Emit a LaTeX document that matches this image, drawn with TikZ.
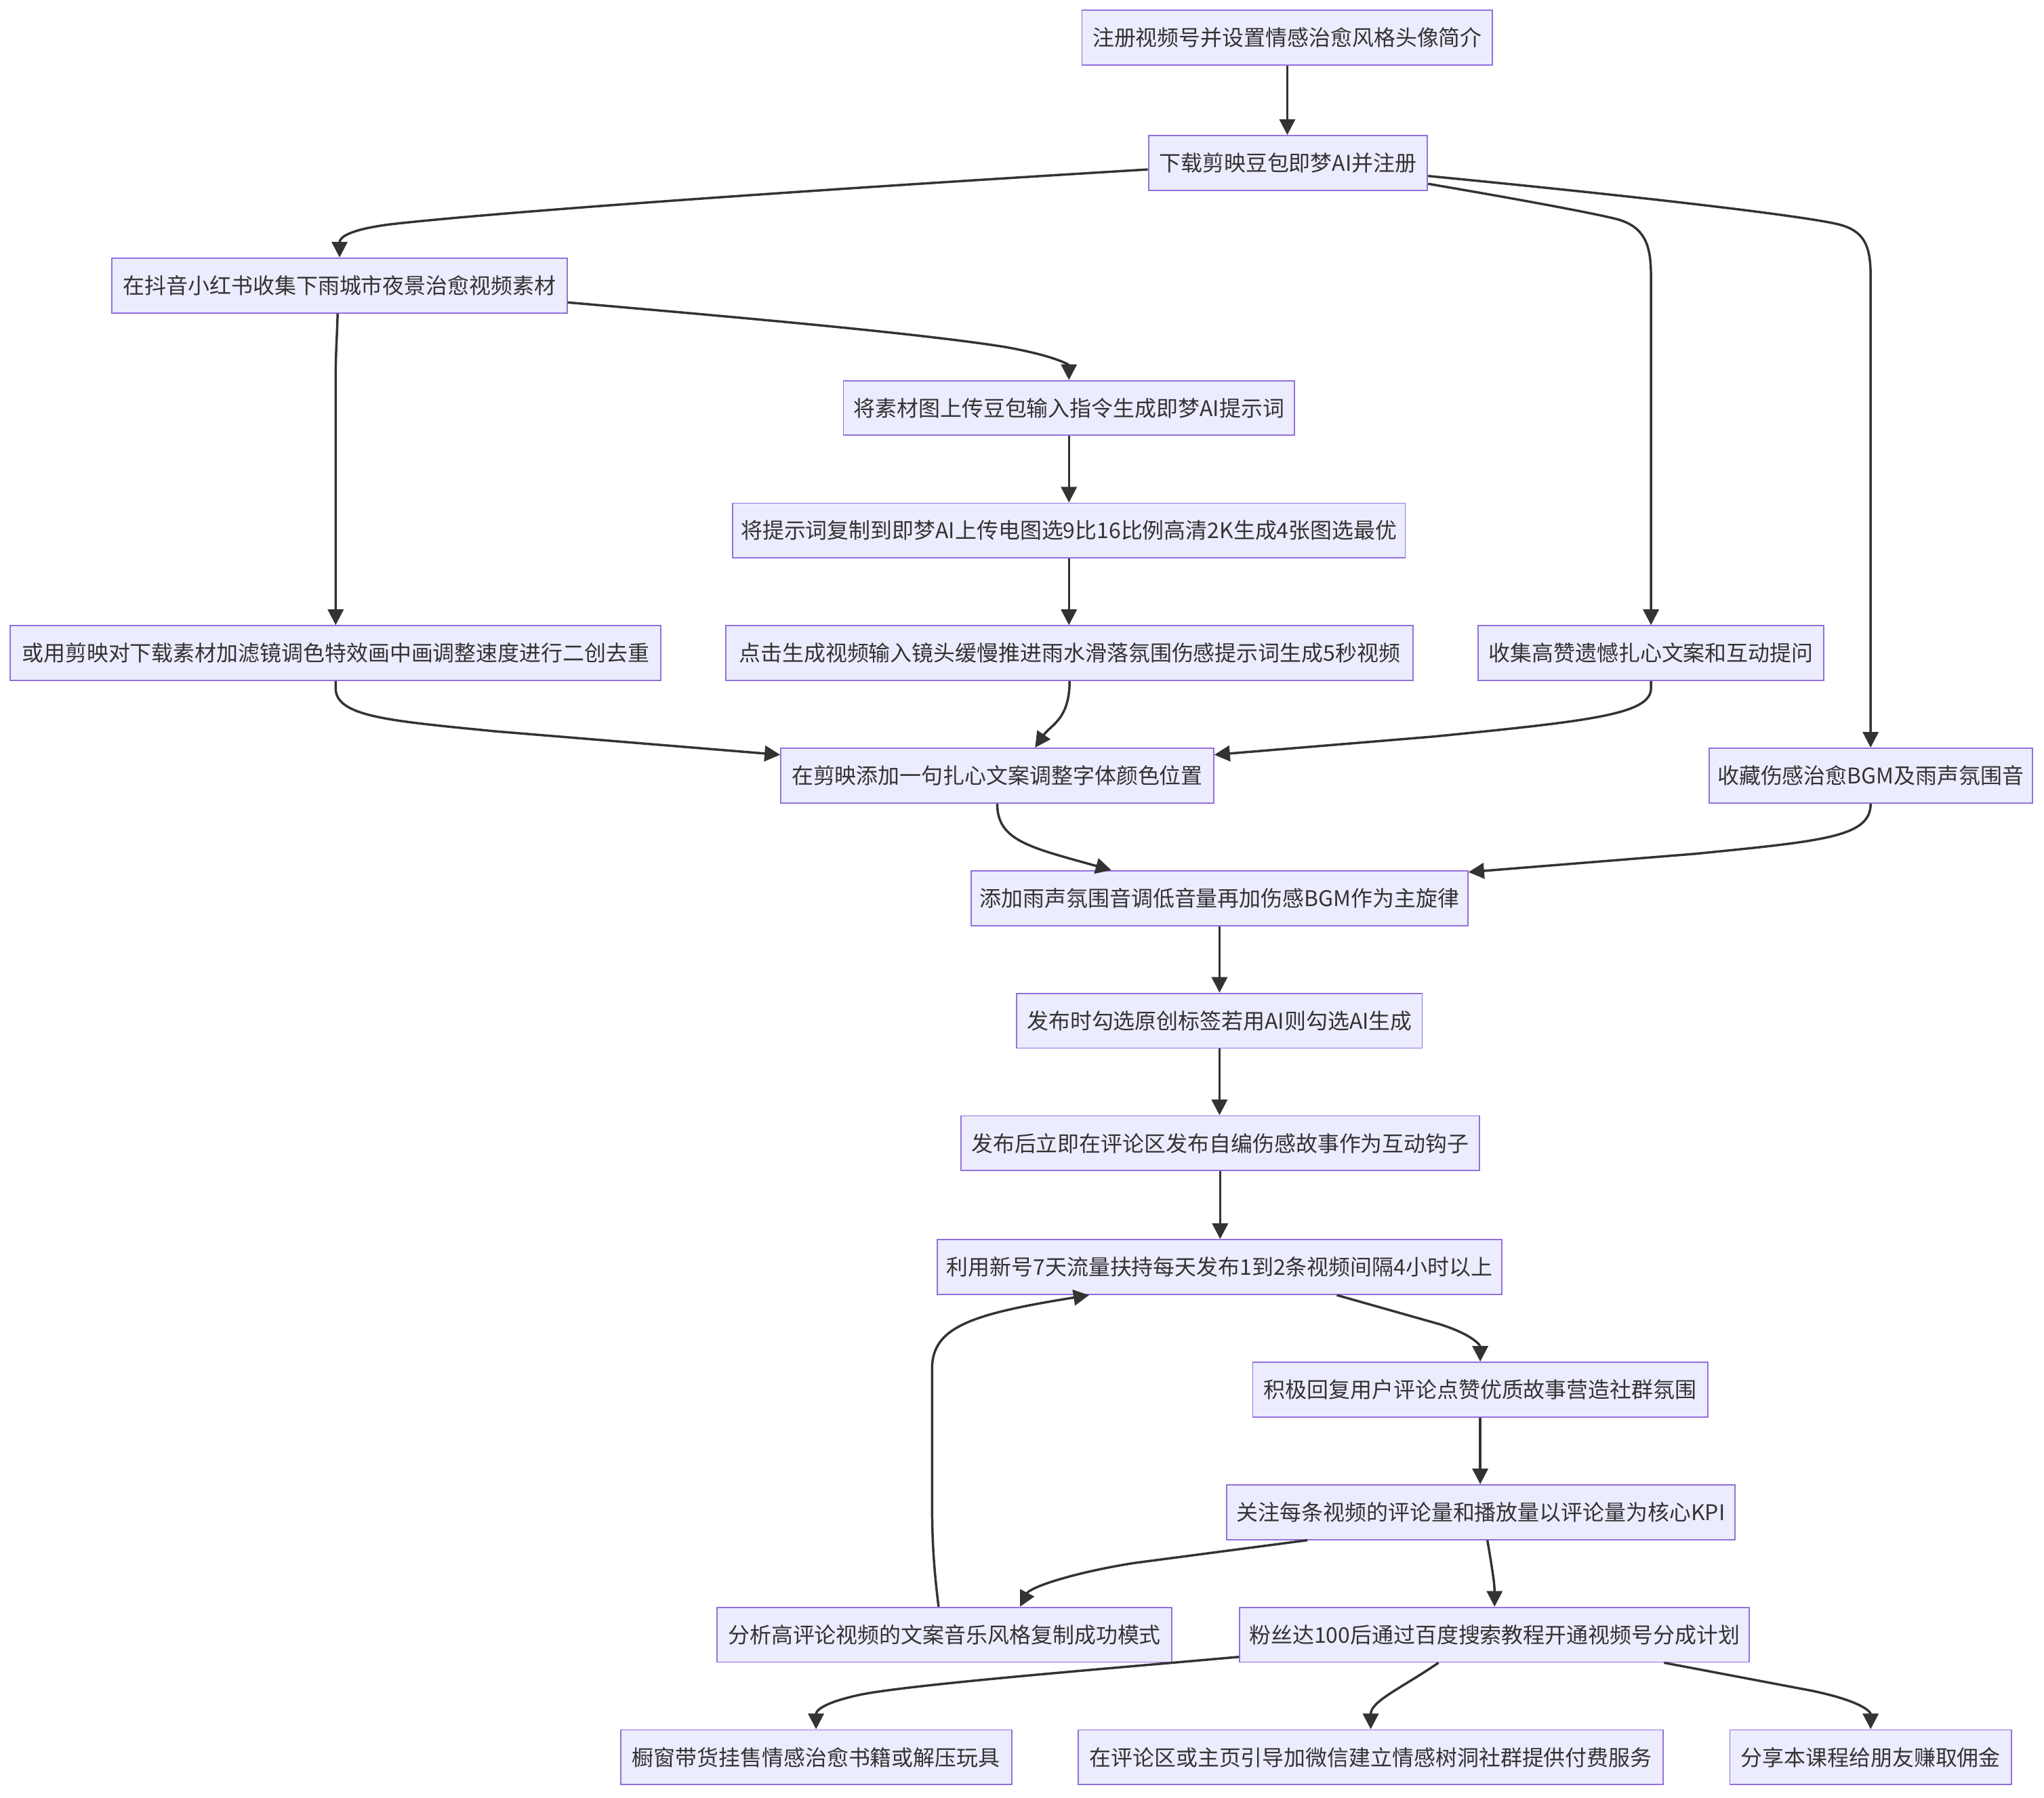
\documentclass[tikz,border=0pt]{standalone}
\usepackage{fontspec}
\setmainfont{Noto Sans CJK SC}
\usetikzlibrary{arrows.meta,calc}
\definecolor{boxfill}{HTML}{ECECFF}
\definecolor{boxline}{HTML}{9370DB}
\definecolor{ink}{HTML}{333333}
\tikzset{
  stepbox/.style={draw=boxline, fill=boxfill, line width=1pt, text=ink,
    minimum height=42pt, inner xsep=3pt, inner ysep=0pt,
    font=\fontsize{16.6pt}{19pt}\selectfont},
  link/.style={draw=ink, line width=1.8pt,
    -{Triangle[length=12pt,width=12pt]}}
}
\begin{document}
\begin{tikzpicture}[x=1pt,y=-1pt]
\useasboundingbox (0,0) rectangle (1568,1379);
\fill[white] (0,0) rectangle (1568,1379);

\node[stepbox, minimum width=315pt] (A) at (987.5,29) {注册视频号并设置情感治愈风格头像简介};
\node[stepbox, minimum width=214pt] (B) at (988,125) {下载剪映豆包即梦AI并注册};
\node[stepbox, minimum width=349pt] (C) at (260.5,219) {在抖音小红书收集下雨城市夜景治愈视频素材};
\node[stepbox, minimum width=346pt] (D) at (820,313) {将素材图上传豆包输入指令生成即梦AI提示词};
\node[stepbox, minimum width=516pt] (E) at (820,407) {将提示词复制到即梦AI上传电图选9比16比例高清2K生成4张图选最优};
\node[stepbox, minimum width=499pt] (F) at (257.5,501) {或用剪映对下载素材加滤镜调色特效画中画调整速度进行二创去重};
\node[stepbox, minimum width=527pt] (G) at (820.5,501) {点击生成视频输入镜头缓慢推进雨水滑落氛围伤感提示词生成5秒视频};
\node[stepbox, minimum width=265pt] (H) at (1266.5,501) {收集高赞遗憾扎心文案和互动提问};
\node[stepbox, minimum width=332pt] (I) at (765,595) {在剪映添加一句扎心文案调整字体颜色位置};
\node[stepbox, minimum width=248pt] (J) at (1435,595) {收藏伤感治愈BGM及雨声氛围音};
\node[stepbox, minimum width=381pt] (K) at (935.5,689) {添加雨声氛围音调低音量再加伤感BGM作为主旋律};
\node[stepbox, minimum width=311pt] (L) at (935.5,783) {发布时勾选原创标签若用AI则勾选AI生成};
\node[stepbox, minimum width=398pt] (M) at (936,877) {发布后立即在评论区发布自编伤感故事作为互动钩子};
\node[stepbox, minimum width=433pt] (N) at (935.5,972) {利用新号7天流量扶持每天发布1到2条视频间隔4小时以上};
\node[stepbox, minimum width=349pt] (O) at (1135.5,1066) {积极回复用户评论点赞优质故事营造社群氛围};
\node[stepbox, minimum width=390pt] (P) at (1136,1160) {关注每条视频的评论量和播放量以评论量为核心KPI};
\node[stepbox, minimum width=349pt] (Q) at (724.5,1254) {分析高评论视频的文案音乐风格复制成功模式};
\node[stepbox, minimum width=391pt] (R) at (1146.5,1254) {粉丝达100后通过百度搜索教程开通视频号分成计划};
\node[stepbox, minimum width=300pt] (S) at (626,1348) {橱窗带货挂售情感治愈书籍或解压玩具};
\node[stepbox, minimum width=449pt] (T) at (1051.5,1348) {在评论区或主页引导加微信建立情感树洞社群提供付费服务};
\node[stepbox, minimum width=216pt] (U) at (1435,1348) {分享本课程给朋友赚取佣金};

% straight links
\draw[link] (A.south) -- (A.south |- B.north);
\draw[link] (D.south) -- (E.north);
\draw[link] (E.south) -- (E.south |- G.north);
\draw[link] (K.south) -- (L.north);
\draw[link] (L.south) -- (L.south |- M.north);
\draw[link] (M.south) -- (M.south |- N.north);
\draw[link] (O.south) -- (O.south |- P.north);

% B fan-out
\draw[link] ($(B.west)+(0,5)$) .. controls (600,147) and (380,163) .. (300,172)
  .. controls (268,176) and (260.5,182) .. (C.north);
\draw[link] ($(B.east)+(0,16)$) .. controls (1160,152) and (1220,163) .. (1240,168)
  .. controls (1262,174) and (1266.5,188) .. (1266.5,212) -- (H.north);
\draw[link] ($(B.east)+(0,10)$) .. controls (1250,150) and (1380,165) .. (1410,172)
  .. controls (1430,177) and (1435,188) .. (1435,212) -- (J.north);

% C fan-out
\draw[link] ($(C.east)+(0,13)$) .. controls (550,242) and (700,255) .. (770,266)
  .. controls (810,273) and (820,280) .. (D.north);
\draw[link] ($(C.south)+(-1.5,0)$) .. controls (258.5,260) and (257.5,270) .. (257.5,290) -- (F.north);

% into I
\draw[link] (F.south) -- (257.5,528) .. controls (257.5,550) and (300,553) .. (380,561)
  -- ($(I.west)+(0,-16)$);
\draw[link] (G.south) .. controls (820.5,552) and (806,556) .. ($(I.north)+(29,0)$);
\draw[link] (H.south) -- (1266.5,528) .. controls (1266.5,548) and (1220,553) .. (1100,565)
  -- ($(I.east)+(0,-16)$);

% into K
\draw[link] (I.south) .. controls (765,645) and (790,650) .. ($(K.north)+(-83,0)$);
\draw[link] (J.south) .. controls (1435,642) and (1400,645) .. (1300,655)
  -- ($(K.east)+(0,-20)$);

% loop section
\draw[link] ($(N.south)+(90,0)$) -- (1105,1016) .. controls (1130,1024) and (1135.5,1032) .. (O.north);
\draw[link] ($(P.south)+(-133,0)$) -- (870,1199) .. controls (820,1207) and (790,1218) .. ($(Q.north)+(58,0)$);
\draw[link] ($(P.south)+(5,0)$) .. controls (1145,1205) and (1146.5,1215) .. (R.north);
\draw[link] ($(Q.north)+(-4.5,0)$) .. controls (716,1200) and (715,1180) .. (715,1150)
  -- (715,1050) .. controls (715,1018) and (745,1008) .. ($(N.south)+(-100,0)$);

% R fan-out
\draw[link] ($(R.west)+(0,17)$) .. controls (850,1280) and (700,1292) .. (660,1300)
  .. controls (632,1306) and (626,1312) .. (S.north);
\draw[link] ($(R.south)+(-43,0)$) .. controls (1075,1295) and (1051.5,1305) .. (T.north);
\draw[link] ($(R.south)+(130,0)$) -- (1390,1297) .. controls (1428,1305) and (1435,1313) .. (U.north);
\end{tikzpicture}
\end{document}
